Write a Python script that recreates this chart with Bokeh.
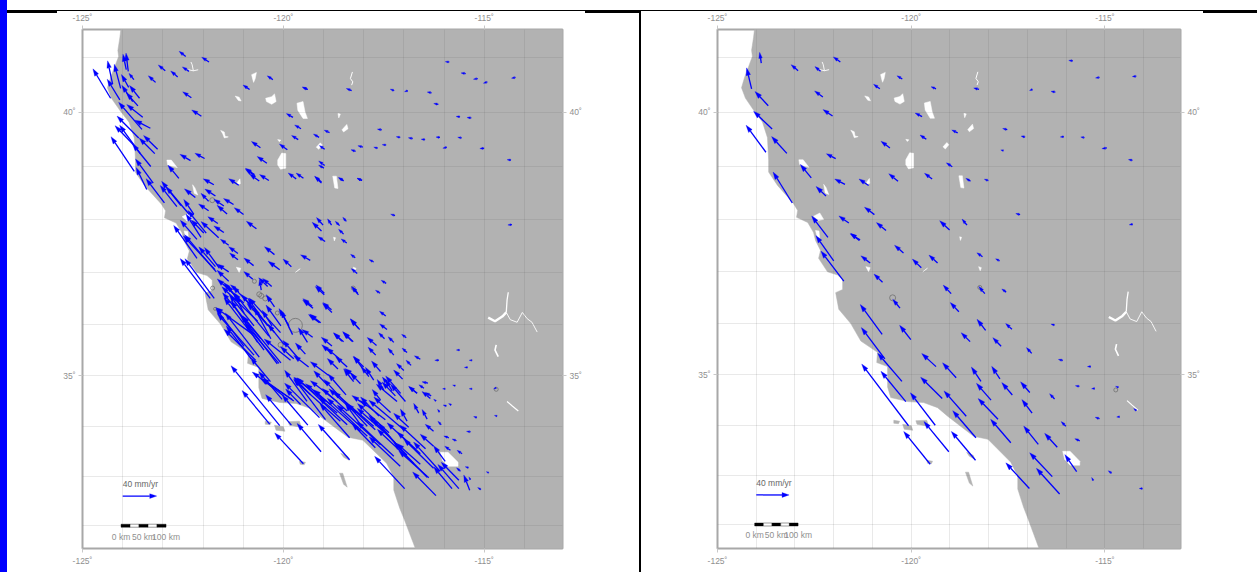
import numpy as np
from bokeh.plotting import figure
from bokeh.layouts import row
from bokeh.models import Range1d, LinearAxis, FixedTicker, Grid
from bokeh.core.properties import value
from bokeh.embed import file_html
from bokeh.resources import INLINE

# ---------------- velocity field, left panel (site lon/lat in degrees, velocity in mm/yr)
left_lon = [
 -124.3,-124.25,-124.05,-124.07,-123.91,-123.86,-123.72,-123.85,-123.58,-123.62,
 -123.75,-123.5,-123.52,-123.31,-123.6,-123.65,-123.71,-123.56,-123.3,-123.2,
 -123.13,-123.24,-122.6,-122.31,-121.96,-122.43,-122.94,-122.63,-123.18,-122.35,
 -121.85,-122.29,-122.04,-120.84,-120.26,-119.39,-119.76,-119.56,-119.63,-120.57,
 -119.9,-120.41,-120.72,-120.6,-121.73,-121.11,-119.68,
 -115.87,-115.46,-115.16,-114.92,-114.22,-119.4,-118.3,-117.24,-116.9,-116.31,
 -116.14,-115.6,-115.32,-117.55,-117.09,-116.78,-116.47,-116.1,-115.56,-115.0,
 -115.93,-114.33,-118.85,-119.11,-118.97,-118.97,-119.05,-118.5,-118.04,-118.2,
 -118.02,-117.65,-117.44,-117.22,-114.31,
 -119.01,-119.05,-118.8,-118.6,-118.43,-118.5,-118.42,-118.96,-118.21,-117.75,
 -118.16,-117.44,-117.59,-118.13,-118.98,-118.79,-119.26,-119.1,-117.45,-118.13,
 -117.42,-119.33,-119.8,-120.22,-120.09,-120.67,-120.39,-120.99,-121.13,-120.74,
 -120.76,-120.71,-120.36,-119.5,-119.05,-118.5,-118.04,-118.99,-122.19,-121.69,
 -121.86,-121.24,-121.48,-121.4,-121.86,-122.23,-121.63,-121.48,-121.98,-121.61,
 -122.15,-121.36,-121.13,-122.65,-121.69,-121.36,-122.15,-121.7,-121.82,-121.36,
 -121.11,-121.09,
 -120.98,-120.77,-121.07,-120.28,-119.86,-119.4,-119.27,-119.45,-119.74,-119.07,
 -119.28,-118.8,-118.98,-118.15,-118.1,-118.54,-118.29,-118.78,-118.41,-118.64,
 -119.37,-118.87,-118.2,-118.0,
 -115.61,-116.13,-115.3,-115.41,-116.59,-116.82,-116.92,-116.94,-117.25,-117.48,
 -117.25,-117.7,-117.0,-117.03,-117.58,-117.68,-118.26,-118.5,-118.62,-118.79,
 -118.03,-117.75,-118.25,-117.08,-116.4,-116.5,-116.67,-116.32,-116.2,-115.97,
 -115.72,-115.3,-114.7,-114.68,-115.18,-115.34,-115.94,-115.82,-116.07,-116.11,
 -115.88,-115.69,-115.84,-115.55,-115.59,-115.39,-114.89,-115.08,-115.34,-115.36,
 -120.34,-120.09,-119.8,-119.39,-119.5,-119.06,-118.35,-116.98,-116.2,-115.63,
 -115.8,-115.63,-118.35,-118.95,-119.74,-119.99,-117.91,-117.71,-117.09,-116.38,
 -116.46,-116.26,-116.59,-117.0,-117.17,-118.66,-118.44,-118.91,-116.96,-117.17,
 -116.63,-116.42,-116.26,-116.92,-116.67,-116.34,
 -120.69,-120.11,-120.32,-120.03,-119.78,-119.57,-119.41,-118.95,-119.32,-118.83,
 -118.66,-118.41,-118.2,-118.08,-117.71,-117.46,-117.33,-117.09,-116.71,-115.97,
 -116.88,-117.33,-117.62,-117.92,-117.58,-117.87,-118.08,-117.5,-117.37,-117.21,
 -117.29,
 -122.96,-122.55,-121.92,-122.05,-121.72,-121.67,-121.59,-120.8,-120.64,-120.56,
 -120.06,-120.8,-120.6,-120.64,-120.31,-120.22,-119.97,-119.64,-119.77,-120.06,
 -120.22,-120.55,-120.29,-120.39,-120.98,-122.34,-123.4,
 -116.42,-116.75,-116.92,-117.58,-118.08,-118.41,-118.58,-119.1,-117.25,-117.91,
 -117.75,-117.37,-116.59,-116.26,-116.1,-120.15,-120.48,-120.73,-120.98,-120.36,
 -120.07,-119.82,-120.44,-120.73,
]
left_lat = [
 40.26,40.52,40.44,40.23,40.78,40.75,40.6,40.46,40.26,40.12,
 40.2,39.91,39.69,39.71,39.53,39.34,38.91,39.24,39.0,39.24,
 39.32,38.69,38.78,39.11,39.15,41.02,40.76,40.65,40.55,40.75,
 40.92,40.27,39.93,40.42,40.6,40.42,39.91,39.7,39.5,39.35,
 39.31,39.06,38.85,38.73,38.66,38.65,38.77,
 40.92,40.71,40.62,40.56,40.64,40.42,40.4,40.4,40.4,40.36,
 40.15,39.92,39.9,39.68,39.54,39.52,39.5,39.54,39.53,39.34,
 39.36,39.12,39.63,39.54,39.32,39.02,38.71,38.73,38.74,39.28,
 39.36,39.34,39.4,38.08,37.91,
 37.9,37.79,37.9,37.89,37.97,37.73,37.56,37.59,37.28,37.2,
 36.98,36.79,36.6,36.57,36.57,36.23,36.31,36.03,36.16,35.92,
 35.9,37.23,37.11,37.34,37.05,37.83,36.73,38.1,37.24,37.13,
 36.87,38.83,38.74,38.78,38.69,38.74,38.74,38.97,38.42,38.45,
 38.35,38.29,38.26,38.11,38.17,38.11,37.93,37.76,37.75,37.66,
 37.63,37.52,37.36,38.25,37.11,37.01,37.27,37.05,36.5,36.83,
 36.63,36.43,
 36.41,35.81,36.44,35.97,35.97,35.65,35.75,35.42,35.33,36.03,
 36.35,36.28,36.6,36.6,35.9,35.67,35.67,35.42,35.17,35.13,
 35.17,35.0,34.97,35.17,
 35.5,35.3,35.3,35.16,35.32,35.2,35.45,35.74,35.65,35.72,
 35.4,35.4,35.1,34.93,35.08,35.59,35.66,35.66,35.34,35.58,
 35.14,34.91,34.88,34.65,34.85,34.75,34.65,34.6,34.5,34.74,
 34.8,34.74,34.76,34.2,34.17,33.89,34.4,34.42,34.03,34.28,
 33.77,33.71,33.52,33.45,33.1,33.17,33.07,32.73,32.93,32.72,
 34.04,34.01,34.02,34.02,33.25,33.49,33.33,32.75,32.61,32.75,
 32.75,32.92,33.77,34.13,34.5,34.6,34.0,33.57,33.2,32.97,
 33.55,33.6,33.24,33.93,33.63,34.26,34.62,34.82,34.49,34.49,
 34.26,34.14,33.9,34.1,34.65,34.55,
 35.3,35.24,34.88,34.53,34.53,34.43,34.49,34.49,34.62,34.43,
 34.49,34.3,34.26,34.03,33.93,34.13,33.77,33.54,33.54,33.3,
 33.98,34.27,34.2,34.4,34.52,34.98,34.84,34.72,34.8,34.6,
 34.7,
 38.32,38.27,37.75,37.67,36.5,37.01,37.08,36.36,36.06,35.72,
 35.25,35.33,35.36,35.65,35.72,35.84,35.6,35.35,35.8,35.97,
 36.34,36.66,36.73,35.97,36.22,38.1,38.57,
 32.98,33.25,33.42,33.63,33.9,34.03,34.1,34.17,33.4,33.8,
 34.0,33.87,33.45,33.16,33.1,35.23,35.5,35.4,35.57,35.77,
 35.84,35.3,36.03,35.97,
]
left_ve = [
 -20.8,-5.9,-7.5,-14.9,-3.9,-2.7,-5.9,-8.6,-11.8,-13.7,
 -12.9,-18.8,-27.4,-18.4,-25.5,-25.5,-27.4,-24.3,-21.6,-18.4,
 -16.5,-20.8,-12.9,-12.5,-11.4,-7.8,-8.2,-8.2,-8.6,-7.8,
 -8.6,-10.2,-11.4,-7.8,-6.7,-6.3,-7.8,-7.5,-7.8,-10.6,
 -9.4,-11.4,-10.6,-11.4,-12.5,-11.8,-9.4,
 -4.7,-5.5,-5.1,-4.7,-4.7,-5.9,-6.3,-4.7,-3.9,-5.1,
 -5.5,-4.7,-5.1,-5.1,-4.7,-5.1,-4.7,-4.7,-4.7,-5.1,
 -4.7,-4.7,-6.3,-6.7,-6.3,-7.1,-8.2,-5.9,-5.9,-5.5,
 -5.9,-4.7,-4.7,-5.1,-4.7,
 -7.8,-11.0,-4.7,-5.1,-4.3,-5.9,-6.7,-8.6,-5.5,-5.5,
 -7.1,-5.9,-5.5,-8.2,-10.6,-11.0,-12.2,-12.9,-7.4,-9.4,
 -8.6,-11.4,-9.8,-11.8,-13.7,-11.8,-10.6,-11.0,-9.8,-11.4,
 -10.6,-11.0,-11.0,-8.6,-7.5,-5.9,-5.9,-6.3,-12.9,-12.5,
 -9.0,-11.8,-11.8,-11.8,-11.8,-11.8,-11.8,-11.8,-14.9,-20.8,
 -19.6,-9.8,-11.0,-19.6,-19.6,-13.7,-27.4,-37.2,-35.3,-13.7,
 -9.8,-14.9,
 -31.4,-43.0,-19.6,-11.8,-11.8,-10.6,-12.5,-11.8,-15.7,-12.9,
 -11.0,-10.2,-9.8,-5.5,-11.0,-9.8,-11.0,-12.5,-13.7,-12.5,
 -17.6,-21.6,-12.9,-12.5,
 -3.9,-4.7,-3.5,-3.9,-7.0,-5.9,-5.9,-5.5,-6.7,-7.0,
 -6.7,-9.0,-8.6,-10.6,-10.6,-11.0,-11.8,-11.8,-14.5,-12.5,
 -10.2,-9.8,-11.8,-17.6,-7.0,-5.9,-9.8,-6.7,-2.7,-3.1,
 -3.1,-3.5,-3.1,-3.1,-3.9,-4.7,-3.9,-3.1,-3.9,-2.4,
 -5.9,-5.1,-6.7,-5.9,-4.7,-3.9,-2.7,-3.9,-2.0,-7.0,
 -32.5,-57.2,-30.2,-30.2,-33.7,-28.2,-36.8,-35.3,-27.4,-24.7,
 -21.6,-20.8,-34.9,-37.2,-37.2,-37.0,-51.0,-27.4,-36.5,-35.3,
 -30.0,-15.7,-27.4,-41.0,-33.3,-21.6,-21.0,-15.7,-17.6,-24.3,
 -5.9,-5.9,-9.8,-7.8,-9.8,-9.8,
 -37.0,-40.0,-23.5,-27.4,-37.0,-17.6,-26.3,-37.2,-17.6,-29.4,
 -31.4,-29.4,-31.4,-17.6,-33.3,-29.4,-39.2,-25.5,-21.6,-13.7,
 -17.6,-19.6,-21.6,-17.6,-9.8,-9.0,-11.8,-7.8,-7.8,-15.7,
 -7.8,
 -21.6,-22.7,-21.6,-17.6,-34.5,-37.2,-17.6,-22.0,-42.0,-45.0,
 -45.0,-29.4,-40.0,-31.0,-19.6,-39.0,-19.6,-17.6,-13.7,-17.6,
 -9.8,-2.0,-10.6,-23.5,-12.0,-27.4,-12.5,
 -39.0,-43.0,-41.0,-51.0,-55.0,-59.0,-55.0,-41.0,-43.0,-47.0,
 -47.0,-37.0,-39.0,-35.0,-31.0,-43.0,-47.0,-43.0,-33.0,-41.0,
 -37.0,-31.0,-22.0,-29.0,
]
left_vn = [
 33.3,26.3,27.4,23.5,17.6,20.8,7.1,14.5,14.5,14.9,
 18.4,14.5,30.6,9.0,24.7,25.5,39.2,32.1,25.5,17.6,
 15.7,27.4,14.9,7.1,5.9,5.9,6.7,6.7,7.5,5.1,
 5.5,6.7,7.1,5.1,4.3,2.7,4.3,4.3,4.7,7.1,
 6.7,7.8,7.1,7.8,6.7,7.5,6.7,
 0.4,0.8,-0.8,-1.6,-0.8,2.7,2.4,1.6,-1.2,0.8,
 0.8,0.4,0.4,0.8,0.8,0.8,0.4,0.4,0.8,-0.4,
 -1.2,0.4,2.7,3.9,4.3,5.1,6.7,3.9,2.4,2.0,
 1.6,1.2,0.4,1.6,-0.4,
 8.6,9.8,7.1,5.1,4.7,5.5,4.7,5.5,3.9,2.7,
 5.5,3.5,3.5,9.4,9.4,10.2,9.4,9.4,5.5,11.0,
 6.3,6.3,8.6,9.0,9.8,8.6,9.8,7.8,7.8,8.6,
 8.6,7.1,6.7,5.9,7.1,3.1,2.4,3.5,9.8,7.8,
 9.0,6.7,7.8,9.8,7.8,16.5,7.8,7.5,14.9,18.4,
 21.6,6.7,7.8,23.9,22.4,9.0,37.2,38.4,45.1,12.5,
 7.8,19.6,
 27.4,30.0,21.6,17.6,19.6,16.5,8.6,12.5,13.7,9.8,
 8.6,8.2,9.4,6.7,11.8,9.8,11.0,10.6,11.8,11.8,
 12.9,15.7,9.8,11.8,
 0.0,0.0,0.0,0.0,3.9,5.9,5.1,3.9,6.3,6.7,
 7.8,9.0,7.8,10.2,11.8,9.0,10.6,9.8,11.8,9.8,
 13.7,14.5,14.5,19.6,1.6,3.9,7.8,3.9,2.0,0.0,
 0.8,0.0,-1.2,0.8,1.2,0.4,1.2,1.6,3.9,3.1,
 2.0,2.0,4.7,3.9,3.9,1.2,1.2,2.4,3.1,17.2,
 38.0,67.8,34.5,34.1,34.9,32.1,40.0,36.5,26.7,27.4,
 24.7,20.4,38.4,47.0,25.5,27.0,52.9,27.4,33.3,30.6,
 26.7,13.7,23.5,33.3,33.3,17.6,23.5,15.7,19.6,19.6,
 11.0,11.0,7.8,13.7,7.8,7.8,
 35.0,45.0,27.4,31.4,23.5,17.6,35.3,27.4,17.6,23.5,
 23.5,25.5,27.4,23.5,29.4,21.6,33.3,29.4,19.6,17.6,
 15.7,17.6,21.6,11.8,11.8,11.0,11.8,11.8,9.8,15.7,
 12.9,
 27.4,27.4,25.5,26.3,45.0,42.0,23.5,22.0,39.0,52.0,
 53.0,37.2,50.0,47.0,35.0,43.0,23.5,19.6,27.4,23.5,
 13.7,11.8,9.0,31.4,22.0,31.4,25.0,
 39.0,39.0,41.0,45.0,47.0,53.0,47.0,39.0,39.0,43.0,
 39.0,33.0,35.0,33.0,33.0,55.0,59.0,47.0,43.0,49.0,
 39.0,24.0,22.0,35.0,
]

# ---------------- velocity field, right panel
right_lon = [
 -123.87,-124.12,-123.69,-123.59,-123.75,-123.21,-123.07,-122.58,-122.2,-122.15,
 -122.92,-122.34,-121.83,-122.28,-122.03,-121.95,-121.71,-121.1,-121.61,-120.95,
 -120.65,-121.32,-120.55,-120.81,-120.23,-119.36,-119.72,-119.61,-118.8,-118.94,
 -120.34,-119.46,-118.47,-118.01,-118.25,-119.01,-118.56,
 -122.0,-121.74,-121.34,-120.2,-121.06,-119.74,-119.32,-118.16,-117.72,-120.74,
 -118.97,-118.1,-117.55,-120.29,-120.75,-120.01,-118.77,-118.08,-118.48,-117.68,
 -117.4,-120.68,-119.36,-118.84,-120.24,-118.2,-117.71,-117.39,-119.2,-117.94,
 -120.14,-120.07,-118.58,-117.76,-119.38,-118.33,-117.43,-119.03,-119.51,-118.34,
 -116.3,-116.89,-116.09,-115.36,-116.94,-116.3,-115.66,-115.26,-114.65,-116.88,
 -115.14,-114.62,-114.19,-116.01,-115.65,-116.72,-116.23,-115.73,-116.36,-116.17,
 -116.95,-114.83,-115.3,-114.03,
 -115.83,-115.14,-114.19,-116.87,-116.28,-117.52,-117.06,-116.06,-115.53,-114.95,
 -114.29,-117.19,-114.28,-117.62,
]
right_lat = [
 40.9,40.43,40.12,39.69,39.26,39.24,38.31,38.78,38.44,37.66,
 40.76,40.75,40.92,40.28,39.93,39.14,38.66,38.64,37.93,38.09,
 37.79,37.61,39.34,40.43,40.61,40.43,39.92,39.5,39.62,38.99,
 38.72,38.76,38.72,38.73,40.42,37.8,37.89,
 37.21,36.82,37.6,37.36,37.17,37.08,37.17,37.29,37.21,36.8,
 36.58,36.58,36.61,36.3,35.79,35.69,36.23,35.87,35.65,35.56,
 35.89,35.31,35.16,34.94,34.87,34.87,34.92,34.6,34.53,34.5,
 34.47,33.99,34.18,34.12,34.0,33.75,33.65,33.47,33.22,33.3,
 35.97,35.42,35.28,35.16,34.65,34.52,34.77,34.73,34.75,34.24,
 34.13,34.17,34.29,33.98,33.69,33.62,33.56,33.07,32.97,32.62,
 32.73,33.04,32.89,32.73,
 40.94,40.64,40.66,40.42,40.37,39.68,39.54,39.55,39.53,39.34,
 39.11,38.09,37.91,39.29,
]
right_ve = [
 -2.0,-6.1,-16.2,-22.6,-24.2,-18.6,-23.4,-13.3,-12.1,-19.8,
 -8.5,-6.9,-8.5,-10.1,-11.7,-11.3,-12.5,-11.7,-12.1,-12.1,
 -11.7,-12.1,-10.9,-7.7,-6.5,-6.1,-8.5,-7.7,-7.3,-7.3,
 -11.3,-9.3,-5.7,-4.9,-6.5,-12.1,-6.1,
 -21.8,-27.9,-10.5,-10.9,-11.3,-10.9,-10.5,-6.9,-4.9,-10.5,
 -9.7,-7.3,-5.3,-8.9,-26.7,-13.7,-10.5,-10.5,-10.9,-10.1,
 -7.7,-28.7,-17.4,-16.6,-29.5,-11.7,-10.1,-12.9,-26.3,-17.8,
 -30.3,-57.0,-27.1,-24.2,-30.3,-28.3,-24.6,-30.3,-32.3,-29.5,
 -4.4,-6.5,-5.3,-4.4,-11.3,-6.1,-4.9,-4.0,-3.6,-12.5,
 -5.3,-3.6,-3.2,-5.7,-6.1,-17.8,-15.4,-14.5,-27.5,-28.3,
 -28.7,-4.0,-2.0,-4.0,
 -4.9,-4.9,-4.9,-3.6,-5.3,-5.7,-4.9,-4.4,-4.4,-6.1,
 -4.9,-5.3,-4.4,-3.2,
]
right_vn = [
 12.1,23.8,16.2,20.2,30.7,19.0,35.1,15.4,10.9,24.2,
 6.9,5.3,5.7,6.9,7.3,5.7,6.1,7.3,8.1,8.5,
 8.9,6.9,7.7,5.3,3.6,2.4,4.0,4.9,3.2,4.4,
 8.5,6.5,3.2,1.6,1.6,10.5,6.9,
 28.7,34.3,8.1,8.9,8.1,9.7,8.9,4.4,2.4,9.3,
 9.7,8.1,3.6,10.1,33.9,16.2,10.5,12.5,10.1,9.7,
 6.5,35.6,14.9,17.0,31.9,16.2,14.1,14.1,24.2,19.0,
 34.3,69.9,28.7,23.4,36.8,30.7,26.7,34.3,37.2,32.7,
 1.2,6.5,1.2,0.0,12.1,6.1,0.8,-0.4,1.2,15.4,
 1.6,-0.4,2.4,5.3,2.4,20.6,15.8,19.4,27.1,29.1,
 29.1,2.8,3.6,0.0,
 0.4,-0.8,-0.4,-1.2,0.8,1.2,1.2,-0.4,0.8,-0.8,
 0.8,1.2,-0.8,0.8,
]

# ---------------- geography
coast_lon = [
 -124.02,-124.04,-124.07,-124.12,-124.10,-124.20,-124.30,-124.38,-124.28,-124.07,-123.84,-123.71,-123.68,-123.68,
 -123.45,-123.04,-122.93,-122.96,-122.67,-122.52,-122.47,-122.34,-122.39,-122.16,-121.90,-121.77,-121.77,-121.95,
 -121.87,-121.56,-121.30,-120.87,-120.89,-120.61,-120.61,-120.53,-120.09,-119.68,-119.32,-119.06,-118.39,-118.02,
 -117.43,-117.25,-117.25,-117.10,-117.0,-116.65,
]
coast_lat = [
 42.0,41.54,41.36,41.13,41.02,40.83,40.64,40.45,40.26,40.04,39.82,39.53,39.11,38.89,
 38.64,38.30,38.17,38.04,37.94,37.75,37.60,37.41,37.26,37.00,36.94,36.85,36.66,36.60,
 36.28,36.00,35.66,35.44,35.24,35.16,34.76,34.55,34.47,34.45,34.35,34.18,33.78,33.72,
 33.26,32.98,32.72,32.35,32.15,31.4,
]
island_lon = [
 [-120.45,-120.30,-120.33,-120.45],
 [-120.22,-120.00,-119.96,-120.18],
 [-119.88,-119.60,-119.55,-119.85],
 [-119.6,-119.45,-119.48,-119.58],
 [-118.57,-118.40,-118.36,-118.50],
 [-118.60,-118.52,-118.41,-118.50],
]
island_lat = [
 [34.10,34.08,34.03,34.04],
 [34.02,33.99,33.90,33.92],
 [34.09,34.10,33.98,34.02],
 [33.30,33.28,33.23,33.24],
 [33.46,33.40,33.32,33.38],
 [33.06,33.06,32.78,32.84],
]
lake_lon = [
 [-120.76,-120.79,-120.67,-120.70,-120.74],[-121.2,-121.1,-121.05,-121.12],[-120.44,-120.29,-120.22,-120.18,-120.29,-120.42],
 [-119.66,-119.51,-119.46,-119.40,-119.51,-119.64],[-118.64,-118.58,-118.62],[-118.54,-118.42,-118.39,-118.5],
 [-121.56,-121.47,-121.45,-121.37,-121.47,-121.51],[-120.14,-120.06,-120.1],[-119.18,-119.08,-119.03,-119.12],
 [-120.14,-120.04,-119.94,-119.94,-120.07,-120.14],[-122.90,-122.79,-122.64,-122.75,-122.88],[-122.26,-122.2,-122.13,-122.22],
 [-118.77,-118.68,-118.64,-118.72],[-121.15,-121.08,-121.07,-121.13],[-122.52,-122.36,-122.26,-122.4],
 [-122.47,-122.38,-122.36,-122.42],[-118.75,-118.7,-118.73],[-121.17,-121.06,-121.1],[-119.7,-119.58,-119.62],
 [-118.26,-118.19,-118.22],[-116.09,-115.9,-115.65,-115.65,-115.9,-116.04],
]
lake_lat = [
 [40.60,40.69,40.73,40.62,40.55],[40.30,40.28,40.21,40.22],[40.26,40.29,40.34,40.20,40.15,40.20],
 [40.17,40.20,40.01,39.89,39.89,40.04],[39.98,39.97,39.9],[39.68,39.78,39.7,39.64],
 [39.67,39.64,39.56,39.55,39.53,39.61],[39.5,39.49,39.46],[39.36,39.44,39.4,39.32],
 [39.12,39.25,39.24,38.97,38.95,39.03],[39.12,39.12,38.98,39.00,39.03],[38.66,38.6,38.47,38.5],
 [38.82,38.82,38.59,38.6],[38.7,38.77,38.68,38.66],[38.06,38.12,38.0,37.98],
 [37.79,37.78,37.62,37.64],[37.67,37.66,37.6],[37.1,37.08,37.0],[37.0,37.07,37.05],
 [37.1,37.08,37.02],[33.48,33.48,33.28,33.2,33.2,33.32],
]
river_lon = [
 [-114.90,-114.73,-114.55,-114.45],
 [-114.45,-114.43,-114.40],
 [-114.45,-114.35,-114.18,-114.05,-113.93,-113.81,-113.68],
 [-114.70,-114.73,-114.65],
 [-114.43,-114.30,-114.15],
 [-122.36,-122.24,-122.12],
 [-122.24,-122.27,-122.3],
 [-118.28,-118.33,-118.27,-118.30],
]
river_lat = [
 [36.13,36.06,36.15,36.23],
 [36.23,36.47,36.62],
 [36.23,36.09,36.04,36.23,36.11,36.04,35.85],
 [35.60,35.50,35.37],
 [34.49,34.40,34.30],
 [40.78,40.76,40.78],
 [40.76,40.87,40.92],
 [40.74,40.62,40.56,40.50],
]
river_width = [2.4, 1.3, 0.9, 1.6, 1.2, 0.9, 0.9, 1.0]

# error ellipses
left_circle_lon = [-119.7,-120.55,-120.72,-120.6,-121.77,-121.76,-121.7,-120.77,-120.15,-120.07,-120.45,-118.26,-114.7]
left_circle_lat = [35.98,36.55,36.83,36.58,38.37,36.7,36.3,36.31,36.22,35.6,36.5,36.7,34.73]
left_circle_err = [14,5,4,5,5,4,3,4,4,5,5,4,4]
right_circle_lon = [-120.48,-118.23,-114.72]
right_circle_lat = [36.5,36.7,34.7]
right_circle_err = [6,4,4]

# ---------------- axes, reference arrow, scale bar
lon_ticks = [-125,-120,-115]
lat_ticks = [40,35]
lon_grid = [-124,-123,-122,-121,-120,-119,-118,-117,-116,-115,-114]
lat_grid = [41,40,39,38,37,36,35,34,33,32]
ref_speed = 40
ref_label = "40 mm/yr"
scale_labels = ["0 km","50 km","100 km"]
scale_km = [0,50,100]

BLUE = "#0000ff"
LAND = "#b2b2b2"
GREY_TEXT = "#8f8f8f"
FONT = "Liberation Sans"
DEG_PER_MM = 0.0212


def merc(lat):
    lat = np.asarray(lat, dtype=float)
    return np.degrees(np.log(np.tan(np.pi / 4 + np.radians(lat) / 2)))


def draw_arrows(p, lons, lats, ves, vns, px_per_deg):
    lons, lats, ves, vns = [np.asarray(v, dtype=float) for v in (lons, lats, ves, vns)]
    n = min(len(lons), len(lats), len(ves), len(vns))
    lons, lats, ves, vns = lons[:n], lats[:n], ves[:n], vns[:n]
    y0 = merc(lats)
    dx, dy = ves * DEG_PER_MM, vns * DEG_PER_MM
    length = np.hypot(dx, dy)
    head = np.clip(0.4 * length * px_per_deg + 1.5, 2.0, 7.0) / px_per_deg
    hw = head * 0.32
    ux, uy = dx / length, dy / length
    x1, y1 = lons + dx, y0 + dy
    bx, by = x1 - ux * head, y1 - uy * head
    p.segment(lons, y0, bx, by, line_color=BLUE, line_width=1.3)
    xs = [[a, b - uy_ * w, b + uy_ * w] for a, b, uy_, w in zip(x1, bx, uy, hw)]
    ys = [[a, b + ux_ * w, b - ux_ * w] for a, b, ux_, w in zip(y1, by, ux, hw)]
    p.patches(xs, ys, fill_color=BLUE, line_color=BLUE, line_width=0.3)


def style_axis(a):
    a.axis_line_color = None
    a.major_tick_line_color = "#c8c8c8"
    a.major_tick_out = 4
    a.major_tick_in = 0
    a.minor_tick_line_color = None
    a.major_label_text_font = FONT
    a.major_label_text_font_size = "8.5px"
    a.major_label_text_color = GREY_TEXT
    a.major_label_standoff = 3


def panel(width, lons, lats, ves, vns, clon, clat, cerr, left_border, right_border, bottom_border, ybot, px_per_deg):
    p = figure(width=width, height=572, x_range=Range1d(-125, -113.05), y_range=Range1d(ybot, 45.70),
               output_backend="svg", toolbar_location=None, x_axis_location=None, y_axis_location=None,
               min_border_left=left_border, min_border_right=right_border, min_border_top=29, min_border_bottom=bottom_border,
               border_fill_color=None, background_fill_color="white",
               outline_line_color="#a8a8a8", outline_line_width=2)
    p.grid.visible = False

    # land, islands, lakes
    land_x = coast_lon + [-113.0, -113.0]
    land_y = list(merc(coast_lat)) + [30.0, 48.0]
    r = p.patch(land_x, land_y, fill_color=LAND, line_color=LAND, line_width=0.5); r.level = "image"
    r = p.patches(island_lon, [list(merc(v)) for v in island_lat], fill_color=LAND, line_color=LAND, line_width=0.5); r.level = "image"
    r = p.patches(lake_lon, [list(merc(v)) for v in lake_lat], fill_color="white", line_color="white", line_width=0.5); r.level = "image"
    for xs, ys, w in zip(river_lon, river_lat, river_width):
        r = p.line(xs, list(merc(ys)), line_color="white", line_width=w); r.level = "image"

    # graticule
    gx = Grid(dimension=0, ticker=FixedTicker(ticks=lon_grid), grid_line_color="#555555", grid_line_alpha=0.13, grid_line_width=1, level="underlay")
    gy = Grid(dimension=1, ticker=FixedTicker(ticks=[float(v) for v in merc(lat_grid)]), grid_line_color="#555555", grid_line_alpha=0.13, grid_line_width=1, level="underlay")
    p.add_layout(gx); p.add_layout(gy)

    # frame axes
    y_t = [float(v) for v in merc(lat_ticks)]
    for loc in ("above", "below"):
        a = LinearAxis(ticker=FixedTicker(ticks=lon_ticks),
                       major_label_overrides={t: f"{t}\u02da" for t in lon_ticks})
        style_axis(a); p.add_layout(a, loc)
    for loc in ("left", "right"):
        a = LinearAxis(ticker=FixedTicker(ticks=y_t),
                       major_label_overrides={t: f"{l}\u02da" for t, l in zip(y_t, lat_ticks)})
        style_axis(a); p.add_layout(a, loc)

    # ellipses
    p.scatter(clon, list(merc(clat)), marker="circle", size=cerr, fill_color=None, line_color="#707070", line_width=0.8)

    # velocity arrows
    draw_arrows(p, lons, lats, ves, vns, px_per_deg)

    # reference arrow and label
    rx = -124.0
    draw_arrows(p, [rx], [32.6], [ref_speed], [0.0], px_per_deg)
    p.text([rx], [float(merc(32.74))], text=[ref_label], text_font=value(FONT), text_font_size="8.5px",
           text_color="#666666", text_align="left", text_baseline="bottom")

    # scale bar
    bx0 = -124.04
    deg_per_km = 0.0112
    seg = list(range(5))
    cx = [bx0 + (s + 0.5) * 20 * deg_per_km for s in seg]
    colors = ["black" if s % 2 == 0 else "white" for s in seg]
    p.rect(cx, [float(merc(32.0))] * 5, width=20 * deg_per_km, height=3, height_units="screen",
           fill_color=colors, line_color="black", line_width=0.4)
    p.text([bx0 + k * deg_per_km for k in scale_km], [float(merc(31.78))] * 3, text=scale_labels, text_font=value(FONT),
           text_font_size="8.5px", text_color=GREY_TEXT, text_align="center", text_baseline="middle")
    return p


p1 = panel(640, left_lon, left_lat, left_ve, left_vn, left_circle_lon, left_circle_lat, left_circle_err,
           82, 78, 23, 33.26, 40.2)
p2 = panel(617, right_lon, right_lat, right_ve, right_vn, right_circle_lon, right_circle_lat, right_circle_err,
           77, 77, 24, 33.23, 38.7)


# page decoration of the original screenshot: blue strip, black rules
def bar(color, x, y, w, h):
    return f"linear-gradient({color},{color}) {x}px {y}px/{w}px {h}px no-repeat"


decor = ", ".join([
    bar("#0000ff", 0, 0, 7, 572),
    bar("black", 7, 10, 1250, 1),
    bar("black", 7, 11, 50, 2),
    bar("black", 585, 11, 55, 2),
    bar("black", 1203, 11, 54, 2),
    bar("black", 639, 10, 2, 562),
])
root = row(p1, p2, spacing=0, styles={"background": decor})
open("out.html", "w").write(file_html(root, INLINE))
